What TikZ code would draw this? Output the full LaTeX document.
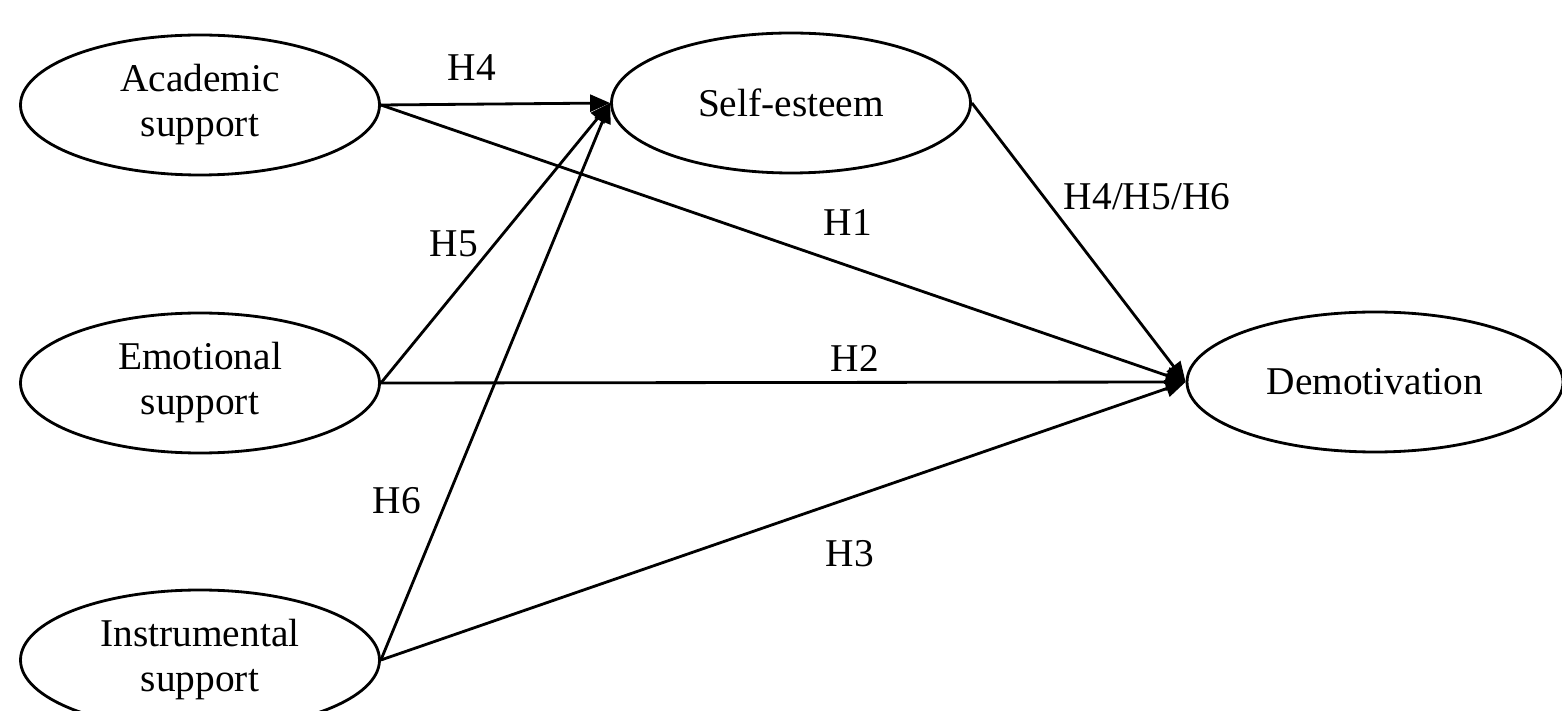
\documentclass[tikz,border=0pt]{standalone}
\usepackage{fontspec}
\setmainfont{Liberation Serif}
\usetikzlibrary{shapes.geometric,arrows.meta}

\begin{document}
\begin{tikzpicture}[
  var/.style={draw, ellipse, line width=0.8pt, inner sep=0pt, minimum width=3.59cm,
    minimum height=1.4cm, align=center, font=\fontsize{11.2}{12.8}\selectfont},
  hyp/.style={line width=0.8pt, -{Triangle[length=0.2cm,width=0.17cm]}},
  lab/.style={font=\fontsize{11.2}{12.8}\selectfont}]
\useasboundingbox (0,0) rectangle (15.62,7.10);
% latent variables
\node[var] (acad) at (2.00,6.05) {Academic\\support};
\node[var] (emot) at (2.00,3.27) {Emotional\\support};
\node[var] (inst) at (2.00,0.50) {Instrumental\\support};
\node[var] (self) at (7.91,6.07) {Self-esteem};
\node[var, minimum width=3.76cm] (demo) at (13.75,3.28) {Demotivation};
% paths
\draw[hyp] (acad.east) -- (self.west);
\draw[hyp] (acad.east) -- (demo.west);
\draw[hyp] (emot.east) -- (self.west);
\draw[hyp] (emot.east) -- (demo.west);
\draw[hyp] (inst.east) -- (self.west);
\draw[hyp] (inst.east) -- (demo.west);
\draw[hyp] (self.east) -- (demo.west);
% hypotheses
\node[lab] (h4) at (4.72,6.42) {H4};
\node[lab] (h5) at (4.54,4.66) {H5};
\node[lab] (h6) at (3.97,2.09) {H6};
\node[lab] (h1) at (8.48,4.87) {H1};
\node[lab] (h2) at (8.55,3.52) {H2};
\node[lab] (h3) at (8.50,1.56) {H3};
\node[lab] (hm) at (11.47,5.13) {H4/H5/H6};
\end{tikzpicture}
\end{document}
